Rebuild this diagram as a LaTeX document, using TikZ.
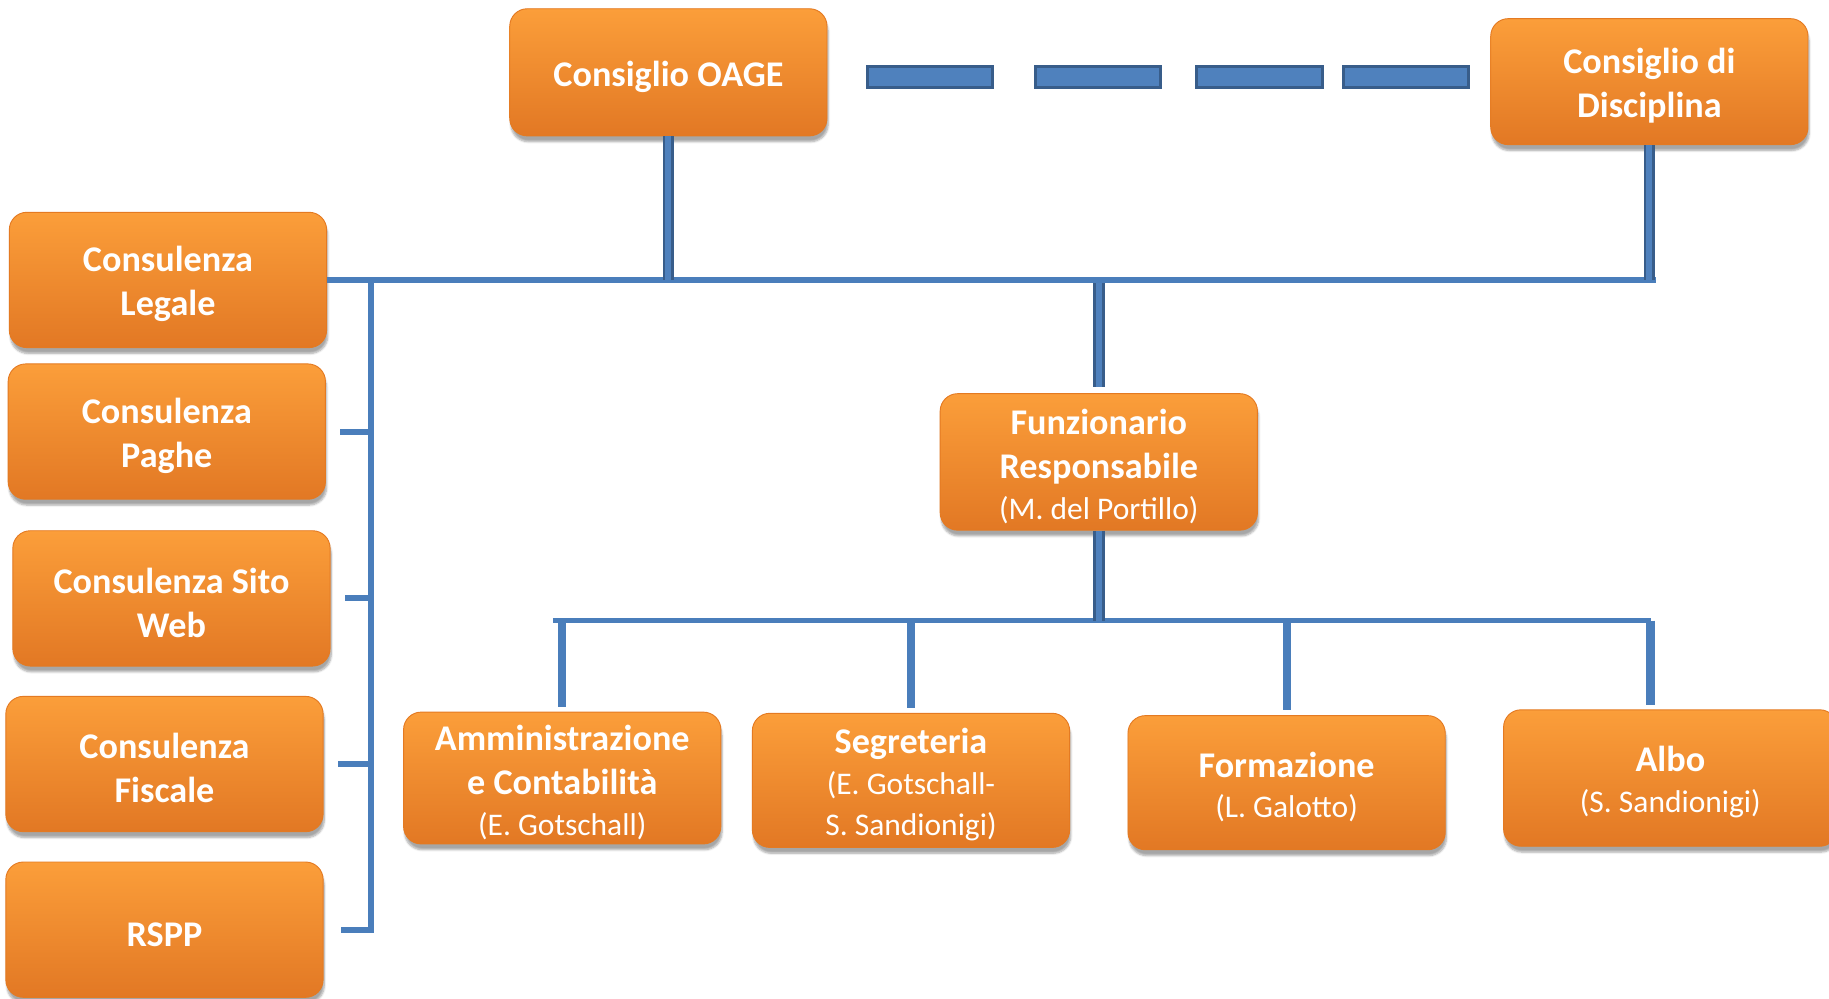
\documentclass[tikz,border=0pt]{standalone}
\usepackage{fontspec}
\usepackage{tikz}
\usetikzlibrary{shapes,arrows,positioning,calc,shadows,shadows.blur}
\newfontfamily\calib{Carlito}
\definecolor{boxtop}{RGB}{251,158,58}
\definecolor{boxbot}{RGB}{226,120,36}
\definecolor{boxedge}{RGB}{228,122,34}
\definecolor{linkblue}{RGB}{74,126,187}
\definecolor{trunkfill}{RGB}{79,129,189}
\definecolor{trunkedge}{RGB}{56,93,138}
\newcommand{\who}[1]{\\[-3pt]{\mdseries\fontsize{27}{32}\selectfont #1}}
\newcommand{\up}{\rule{0pt}{29pt}}

\begin{document}
\begin{tikzpicture}[x=1pt, y=-1pt,
    office/.style={rectangle, rounded corners=15pt, minimum width=272pt, minimum height=116pt,
      top color=boxtop, bottom color=boxbot, draw=boxedge, line width=0.8pt,
      text=white, align=center, font=\calib\bfseries\fontsize{31}{38}\selectfont,
      blur shadow={shadow xshift=1pt, shadow yshift=-5pt, shadow opacity=35, shadow blur steps=6}},
    link/.style={draw=linkblue, line width=5pt},
    drop/.style={draw=linkblue, line width=7pt},
    trunk/.style={draw=trunkedge, line width=2.4pt, double=trunkfill, double distance=5pt},
    dashbar/.style={draw=trunkedge, line width=2.6pt, fill=trunkfill}]
    \useasboundingbox (0,0) rectangle (1568,856);

    % Top councils
    \node[office, minimum height=109pt] (oage) at (573,62) {\up Consiglio OAGE};
    \node[office, minimum height=108pt] (disc) at (1414,70) {\up Consiglio di\\Disciplina};
    \foreach \a/\b in {744/851,888/995,1026/1134,1152/1259}
        \draw[dashbar] (\a,57) rectangle (\b,75);

    % Consultants on the left
    \node[office] (legale) at (144,240) {\up Consulenza\\Legale};
    \node[office] (paghe) at (143,370) {\up Consulenza\\Paghe};
    \node[office] (web) at (147,513) {\up Consulenza Sito\\Web};
    \node[office] (fiscale) at (141,655) {\up Consulenza\\Fiscale};
    \node[office] (rspp) at (141,797) {\up RSPP};

    % Main bus
    \coordinate (hubR) at (1420,240);
    \coordinate (spine) at (318,240);
    \draw[link] (legale.east) -- (hubR);
    \draw[trunk] (oage.south) -- (oage.south |- hubR);
    \draw[trunk] (disc.south) -- (disc.south |- hubR);
    \draw[link] (spine) |- ([xshift=15pt]rspp.east);
    \foreach \n in {paghe,web,fiscale}
        \draw[link] (spine |- \n.east) -- ([xshift=12pt]\n.east);

    % Funzionario
    \node[office, minimum height=117pt] (funz) at (942,396)
        {\up Funzionario\\Responsabile\who{(M. del Portillo)}};
    \draw[trunk, shorten <=3pt, shorten >=5pt] (funz.north |- hubR) -- (funz.north);

    % Offices below
    \node[office, minimum height=113pt] (amm) at (482,667)
        {\up Amministrazione\\e Contabilità\who{(E. Gotschall)}};
    \node[office, minimum height=115pt] (seg) at (781,669)
        {\up Segreteria\who{(E. Gotschall-}\who{S. Sandionigi)}};
    \node[office, minimum height=115pt] (form) at (1103,671)
        {\up Formazione\who{(L. Galotto)}};
    \node[office, minimum height=117pt, minimum width=286pt] (albo) at (1432,667)
        {\up Albo\who{(S. Sandionigi)}};

    \coordinate (busL) at (474,532);
    \coordinate (busR) at (1415,532);
    \draw[link] (busL) -- (busR);
    \draw[trunk] (funz.south) -- (funz.south |- busR);
    \foreach \n in {amm,seg,form}
        \draw[drop, shorten >=4pt] (\n.north |- busR) -- (\n.north);
    \draw[drop, shorten >=4pt] (busR) -- (busR |- albo.north);

\end{tikzpicture}
\end{document}
